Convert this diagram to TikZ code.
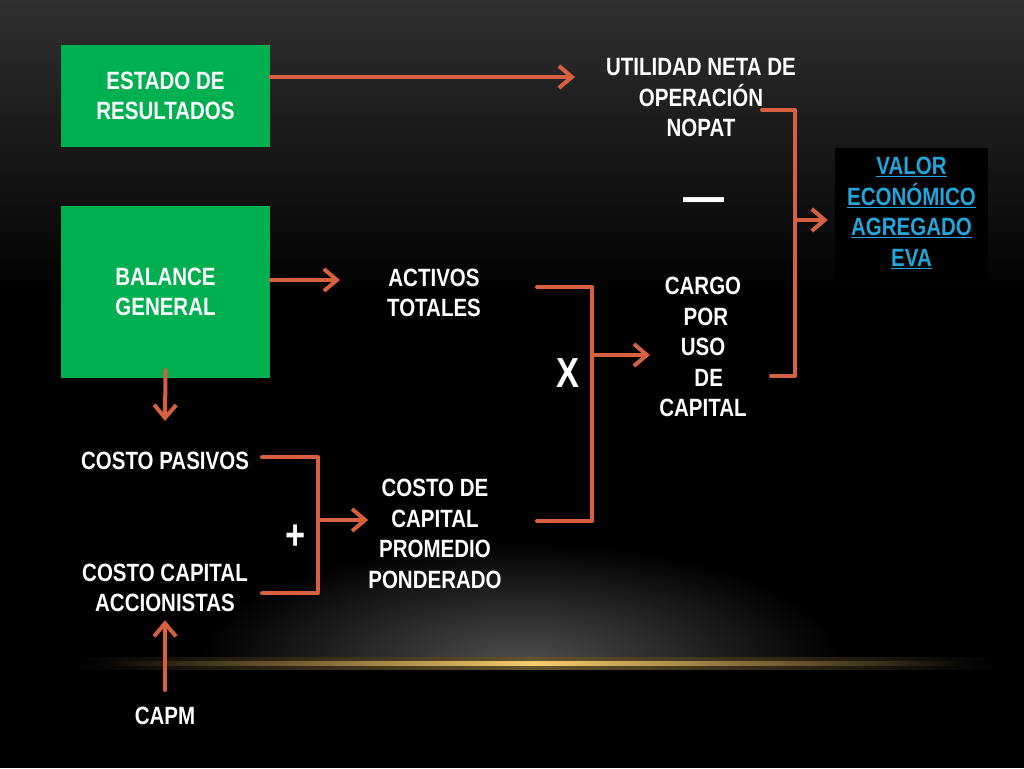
\documentclass[tikz,border=0pt]{standalone}
\usepackage{fontspec}
\setmainfont{Liberation Sans}[FakeStretch=0.82]
\usetikzlibrary{arrows.meta,positioning}
\definecolor{naranja}{RGB}{214,96,64}
\definecolor{verde}{RGB}{0,176,80}
\definecolor{celeste}{RGB}{35,165,220}
\definecolor{fondo}{RGB}{48,48,48}
\definecolor{brillo}{RGB}{78,78,78}
\definecolor{dorado}{RGB}{250,205,110}

\begin{document}
\begin{tikzpicture}[x=1pt, y=-1pt, line cap=round, line join=round, font=\bfseries\fontsize{25}{30.5}\selectfont, >={Straight Barb[length=13pt,width=22pt]}]
	\tikzset{caja/.style={fill=verde, minimum width=209pt, text=white, align=center, inner sep=0pt},
		texto/.style={text=white, align=center, inner sep=0pt},
		linea/.style={draw=naranja, line width=4pt},
		signo/.style={text=white, inner sep=0pt, font=\bfseries\fontsize{42}{42}\selectfont}}
	\useasboundingbox (0,0) rectangle (1024,768);
	% fondo
	\fill[black] (0,0) rectangle (1024,768);
	\shade[top color=fondo, bottom color=black] (0,0) rectangle (1024,300);
	\begin{scope}
		\clip (0,0) rectangle (1024,663);
		\shade[inner color=brillo, outer color=black] (520,663) ellipse (320 and 120);
	\end{scope}
	\shade[left color=black, right color=black, middle color=dorado!40!black] (70,657) rectangle (1000,669);
	\shade[left color=black, right color=black, middle color=dorado] (90,661) rectangle (980,665);
	% nodos
	\node[caja, minimum height=102pt] (est) at (165.5,96) {ESTADO DE\\RESULTADOS};
	\node[caja, minimum height=172pt] (bal) at (165.5,292) {BALANCE\\GENERAL};
	\node[texto] (util) at (701,98) {UTILIDAD NETA DE\\OPERACIÓN\\NOPAT};
	\node[texto] (act) at (434,293) {ACTIVOS\\TOTALES};
	\node[texto] (cargo) at (703,347) {CARGO\\\ POR\\USO\\\ \ DE\\CAPITAL};
	\node[texto] (ccpp) at (435,534) {COSTO DE\\CAPITAL\\PROMEDIO\\PONDERADO};
	\node[texto] (pas) at (165,461) {COSTO PASIVOS};
	\node[texto] (acc) at (165,588) {COSTO CAPITAL\\ACCIONISTAS};
	\node[texto] (capm) at (165,716) {CAPM};
	\node[signo] (por) at (568,373) {X};
	\node[signo] (mas) at (296,537) {+};
	\node[signo, font=\bfseries\fontsize{50}{50}\selectfont] (menos) at (704,206) {—};
	% flechas
	\coordinate (fin1) at (575,77);
	\coordinate (fin2) at (340,280);
	\draw[linea,->] (est.east |- fin1) -- (fin1);
	\draw[linea,->] (bal.east |- fin2) -- (fin2);
	\draw[linea,->] ([yshift=8pt]bal.south) -- ([yshift=31pt]pas.north);
	\draw[linea,->] ([yshift=17pt]capm.north) -- ([yshift=-8pt]acc.south);
	% llaves
	\coordinate (p1) at (262,457);
	\coordinate (p2) at (318,457);
	\coordinate (p3) at (318,593);
	\coordinate (p4) at (262,593);
	\coordinate (p5) at (318,520);
	\draw[linea] (p1) -- (p2) -- (p3) -- (p4);
	\draw[linea,->] (p5) -- (p5 -| ccpp.west);
	\coordinate (q1) at (537,287);
	\coordinate (q2) at (592,287);
	\coordinate (q3) at (592,521);
	\coordinate (q4) at (537,521);
	\coordinate (q5) at (592,355);
	\coordinate (fin3) at (650,355);
	\draw[linea] (q1) -- (q2) -- (q3) -- (q4);
	\draw[linea,->] (q5) -- (fin3);
	\coordinate (r1) at (762,110);
	\coordinate (r2) at (795,110);
	\coordinate (r3) at (795,376);
	\coordinate (r4) at (771,376);
	\coordinate (r5) at (795,220);
	\draw[linea] (r1) -- (r2) -- (r3) -- (r4);
	\node[fill=black, minimum width=153pt, minimum height=130pt, inner sep=0pt, text=celeste, align=center] (eva) at (911.5,213)
		{\underline{VALOR}\\\underline{ECONÓMICO}\\\underline{AGREGADO}\\\underline{EVA}};
	\draw[linea,->] (r5) -- ([xshift=-7pt]eva.west |- r5);
\end{tikzpicture}
\end{document}
